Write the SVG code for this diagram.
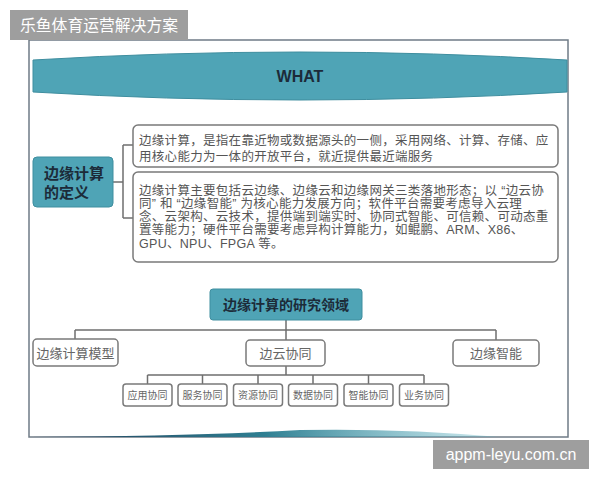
<svg xmlns="http://www.w3.org/2000/svg" width="600" height="480" viewBox="0 0 600 480">
<defs>
<style>
.cjk{font-family:"Noto Sans CJK SC","Noto Sans",sans-serif;}
.lcjk{font-family:"Liberation Sans","Noto Sans CJK SC",sans-serif;}
.teal{fill:#4fa4b6;stroke:#3f8e9f;stroke-width:1}
.box{fill:#ffffff;stroke:#7a7a7a;stroke-width:1.5}
.t{fill:#555555;font-size:12.5px;letter-spacing:0.3px}
.hd{fill:#1c2b39;font-weight:bold}
.sm{fill:#666666;font-size:10px;text-anchor:middle}
.md{fill:#666666;font-size:13px;text-anchor:middle}
.ln{fill:none;stroke:#6f6f6f;stroke-width:1.5}
</style>
<linearGradient id="sw" x1="0" y1="0" x2="1" y2="0">
<stop offset="0" stop-color="#1f3b57"/>
<stop offset="0.5" stop-color="#2f7f92"/>
<stop offset="1" stop-color="#5fb3c3" stop-opacity="0.3"/>
</linearGradient>
</defs>
<rect width="600" height="480" fill="#ffffff"/>

<g id="frame">
<rect x="29" y="40" width="539" height="397" fill="#ffffff" stroke="#6f7b86" stroke-width="1.5"/>
<path d="M30 437 Q200 436 300 430 Q400 428 500 437 Z" fill="url(#sw)"/>
</g>

<g id="what">
<path class="teal" d="M33 60 Q300 44 567 60 L567 92 Q300 108 33 92 Z" stroke="none"/>
<text x="300" y="82" class="hd" font-family="Liberation Sans, Arial, sans-serif" font-size="16" text-anchor="middle">WHAT</text>
</g>

<g id="connectors">
<path class="ln" d="M113 182 H123 M123 145 V218 M123 145 H133 M123 218 H133"/>
<path class="ln" d="M286 320 V330 M75 330 H496 M75 330 V340 M286 330 V340 M496 330 V340"/>
<path class="ln" d="M286 366 V375 M147.5 375 H424 M147.5 375 V384 M202.5 375 V384 M258 375 V384 M313 375 V384 M368.5 375 V384 M424 375 V384"/>
</g>

<g id="def">
<rect class="teal" x="33" y="157" width="80" height="50" rx="4"/>
<text class="cjk hd" font-size="15" x="44" y="179">边缘计算</text>
<text class="cjk hd" font-size="15" x="44" y="198">的定义</text>
</g>

<g id="box1">
<rect class="box" x="133" y="125" width="425" height="42" rx="5"/>
<text class="lcjk t" x="139" y="144.5">边缘计算，是指在靠近物或数据源头的一侧，采用网络、计算、存储、应</text>
<text class="lcjk t" x="139" y="161">用核心能力为一体的开放平台，就近提供最近端服务</text>
</g>

<g id="box2">
<rect class="box" x="133" y="172" width="425" height="90" rx="5"/>
<text class="lcjk t" x="139" y="194.5">边缘计算主要包括云边缘、边缘云和边缘网关三类落地形态；以 “边云协</text>
<text class="lcjk t" x="139" y="207.8">同” 和 “边缘智能” 为核心能力发展方向；软件平台需要考虑导入云理</text>
<text class="lcjk t" x="139" y="221.1">念、云架构、云技术，提供端到端实时、协同式智能、可信赖、可动态重</text>
<text class="lcjk t" x="139" y="234.4">置等能力；硬件平台需要考虑异构计算能力，如鲲鹏、ARM、X86、</text>
<text class="lcjk t" x="139" y="247.7">GPU、NPU、FPGA 等。</text>
</g>

<g id="research">
<rect class="teal" x="210" y="289" width="152" height="31" rx="3"/>
<text class="cjk hd" font-size="14" x="286" y="310" text-anchor="middle">边缘计算的研究领域</text>
</g>

<g id="model">
<rect class="box" x="33" y="339" width="85" height="27" rx="4"/>
<text class="cjk md" x="75.5" y="357.5">边缘计算模型</text>
</g>
<g id="edgecloud">
<rect class="box" x="246" y="340" width="79" height="26" rx="4"/>
<text class="cjk md" x="285.5" y="358">边云协同</text>
</g>
<g id="edgeai">
<rect class="box" x="453" y="340" width="86" height="26" rx="4"/>
<text class="cjk md" x="496" y="358">边缘智能</text>
</g>

<g id="app"><rect class="box" x="123" y="384" width="49" height="22" rx="3"/><text class="cjk sm" x="147.5" y="398.5">应用协同</text></g>
<g id="service"><rect class="box" x="178" y="384" width="49" height="22" rx="3"/><text class="cjk sm" x="202.5" y="398.5">服务协同</text></g>
<g id="resource"><rect class="box" x="233.5" y="384" width="49" height="22" rx="3"/><text class="cjk sm" x="258" y="398.5">资源协同</text></g>
<g id="data"><rect class="box" x="288.5" y="384" width="49" height="22" rx="3"/><text class="cjk sm" x="313" y="398.5">数据协同</text></g>
<g id="intel"><rect class="box" x="344" y="384" width="49" height="22" rx="3"/><text class="cjk sm" x="368.5" y="398.5">智能协同</text></g>
<g id="biz"><rect class="box" x="399.5" y="384" width="49" height="22" rx="3"/><text class="cjk sm" x="424" y="398.5">业务协同</text></g>

<g id="label">
<rect x="10" y="10" width="178" height="30" fill="#9e9e9e"/>
<text class="cjk" x="20" y="31" font-size="15.8" fill="#ffffff">乐鱼体育运营解决方案</text>
</g>
<g id="watermark">
<rect x="433" y="440" width="156" height="29" fill="#9e9e9e"/>
<text x="511" y="460" font-family="Liberation Sans, Arial, sans-serif" font-size="16" fill="#ffffff" text-anchor="middle">appm-leyu.com.cn</text>
</g>
</svg>
